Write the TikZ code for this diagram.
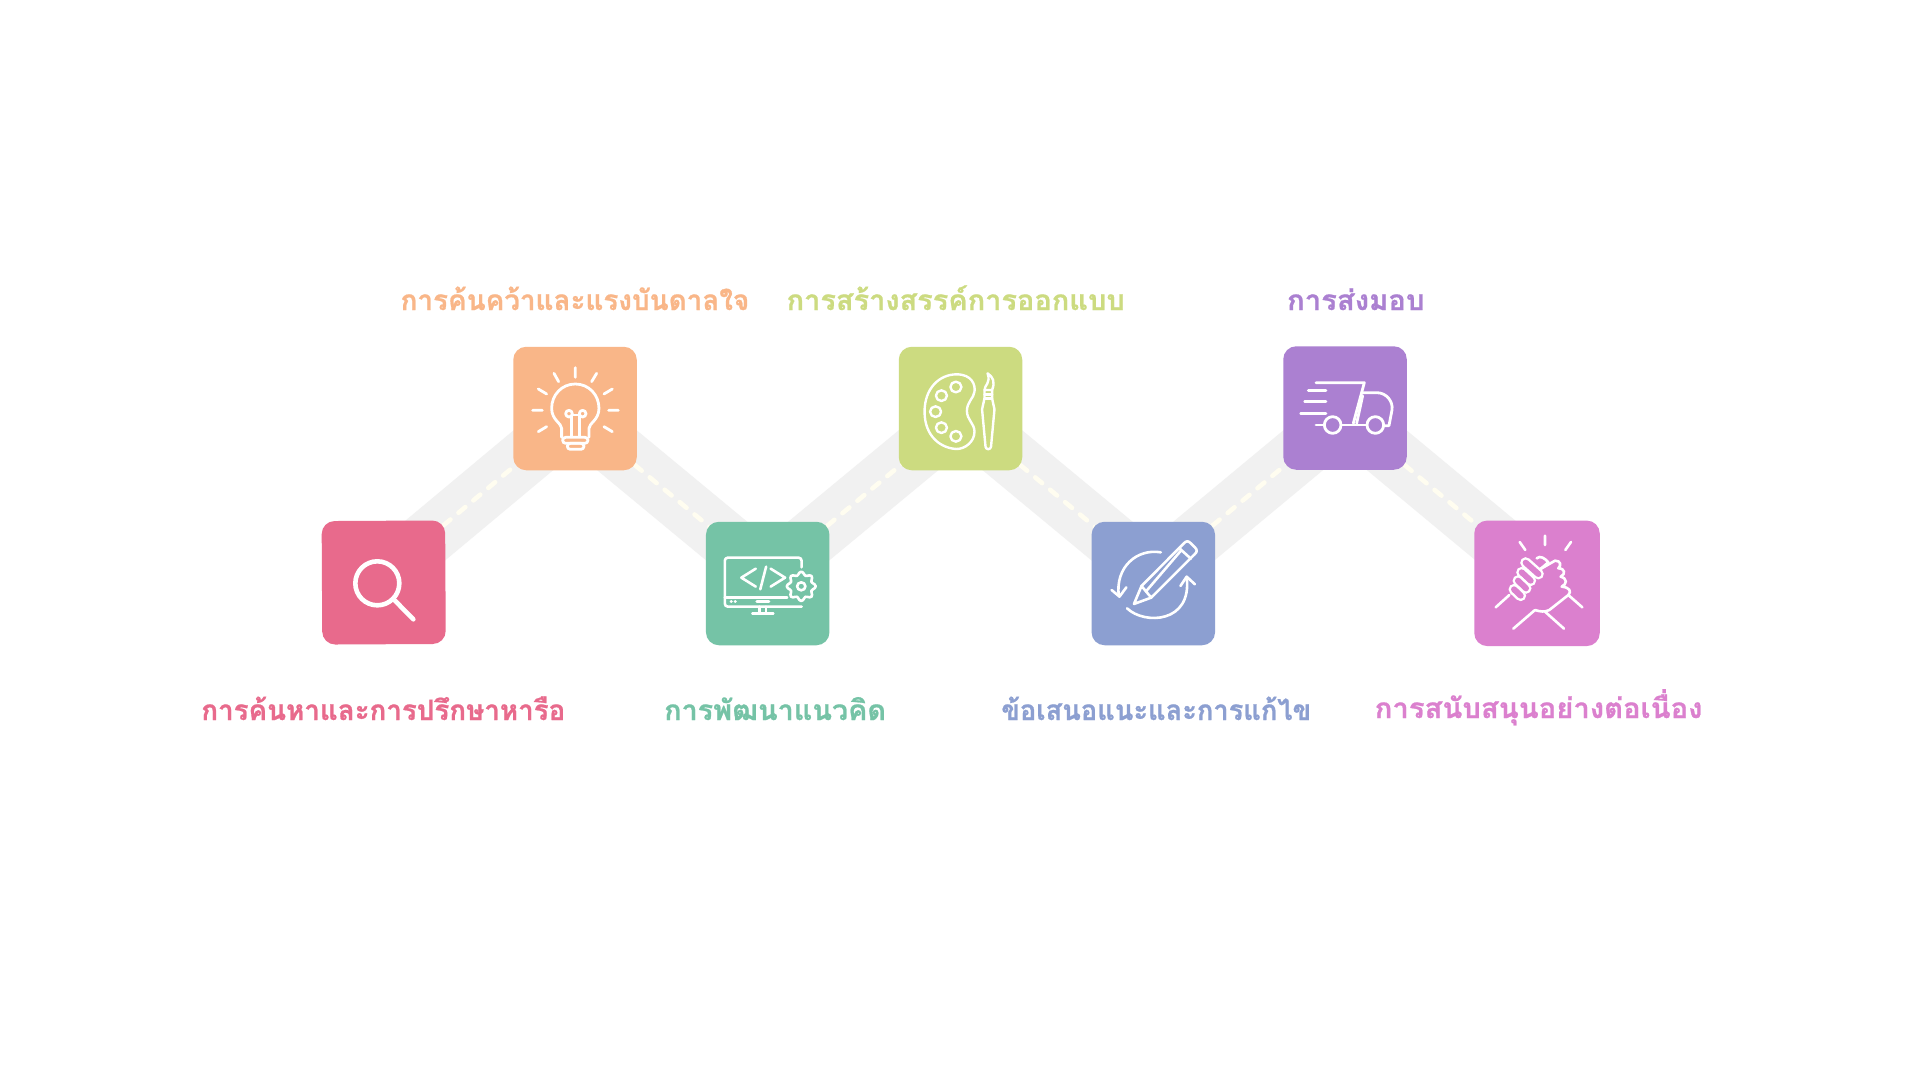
\documentclass[tikz,border=0pt]{standalone}
\usepackage{graphicx}
\usepackage{fontspec}
\newfontfamily\thaifont[Script=Thai,BoldFeatures={FakeBold=0.7}]{Loma}
\definecolor{cpink}{HTML}{E86A8C}
\definecolor{corange}{HTML}{F9B688}
\definecolor{cgreen}{HTML}{75C3A6}
\definecolor{clime}{HTML}{CCDB80}
\definecolor{cblue}{HTML}{8C9FD1}
\definecolor{cpurple}{HTML}{AB80D1}
\definecolor{cmagenta}{HTML}{DB80CE}
\definecolor{cband}{HTML}{F1F1F1}
\definecolor{cdash}{HTML}{FFFDF0}
\tikzset{
  box/.style={minimum size=123.5pt,inner sep=0pt,rounded corners=13pt,fill=#1,draw=none},
  band/.style={line width=56pt,draw=cband},
  roaddash/.style={line width=4.6pt,draw=cdash,line cap=round,dash pattern=on 9pt off 10.4pt},
  lab/.style={anchor=base,font=\thaifont\bfseries\fontsize{28}{33}\selectfont,text=#1,inner sep=0pt},
  z1/.style={xshift=#1pt,yshift=-330pt,x=0.3333pt,y=-0.3333pt},
  z2/.style={xshift=700pt,yshift=-330pt,x=0.3444pt,y=-0.3333pt}
}
\begin{document}
\begin{tikzpicture}[x=1pt,y=-1pt]
\useasboundingbox (0,0) rectangle (1920,1080);
\fill[white] (0,0) rectangle (1920,1080);
\coordinate (pA) at (384,575);
\coordinate (pB) at (575,415.5);
\coordinate (pC) at (767.7,575);
\coordinate (pD) at (960.5,415.5);
\coordinate (pE) at (1153,575);
\coordinate (pF) at (1345,415.5);
\coordinate (pG) at (1537,575);
\draw[band] (pA) -- (pB);
\draw[band] (pB) -- (pC);
\draw[band] (pC) -- (pD);
\draw[band] (pD) -- (pE);
\draw[band] (pE) -- (pF);
\draw[band] (pF) -- (pG);
\draw[roaddash] (pA) -- (pB);
\draw[roaddash] (pB) -- (pC);
\draw[roaddash] (pC) -- (pD);
\draw[roaddash] (pD) -- (pE);
\draw[roaddash] (pE) -- (pF);
\draw[roaddash] (pF) -- (pG);
\node[box=cpink,rotate=0.3] (n1) at (383.7,582.5) {};
\node[box=corange] (n2) at (575,408.5) {};
\node[box=cgreen] (n3) at (767.7,583.5) {};
\node[box=clime] (n4) at (960.5,408.5) {};
\node[box=cblue] (n5) at (1153.3,583.5) {};
\node[box=cpurple] (n6) at (1345,408) {};
\node[box=cmagenta,minimum size=125.5pt] (n7) at (1537,583.3) {};
\node[lab=cpink] (t1) at (383.3,720) {\scalebox{0.99}[1]{การค้นหาและการปรึกษาหารือ}};
\node[lab=corange] (t2) at (574.9,310) {\scalebox{0.994}[1]{การค้นคว้าและแรงบันดาลใจ}};
\node[lab=cgreen] (t3) at (775.1,720) {\scalebox{1.026}[1]{การพัฒนาแนวคิด}};
\node[lab=clime] (t4) at (955.7,310) {\scalebox{1.034}[1]{การสร้างสรรค์การออกแบบ}};
\node[lab=cblue] (t5) at (1156.2,720) {\scalebox{0.973}[1]{ข้อเสนอแนะและการแก้ไข}};
\node[lab=cpurple] (t6) at (1355.8,310) {\scalebox{1.045}[1]{การส่งมอบ}};
\node[lab=cmagenta] (t7) at (1538.6,718) {\scalebox{1.044}[1]{การสนับสนุนอย่างต่อเนื่อง}};
% search
\begin{scope}[z1=300]
\draw[white,line width=4.6pt] (232,760) circle[radius=66];
\draw[white,line width=4.6pt,line cap=round] (285,812) -- (340,868);
\end{scope}
% bulb
\begin{scope}[z1=300,white,line width=2.8pt,line cap=round,line join=round]
\draw (826,113)--(826,142) (762,130)--(776,155) (890,130)--(875,155) (715,177)--(740,192) (937,177)--(912,192)
 (698,241)--(727,241) (926,241)--(955,241) (715,305)--(740,290) (912,290)--(937,305);
\draw (785,322)--(785,295) .. controls (785,280) and (755,270) .. (755,235) .. controls (755,195) and (785,162) .. (826,162) .. controls (867,162) and (897,195) .. (897,235) .. controls (897,270) and (867,280) .. (867,295)--(867,322);
\draw[rounded corners=3pt] (788,322) rectangle (864,340);
\draw[rounded corners=3pt] (802,340) rectangle (852,358);
\draw (815,258)--(815,320) (838,258)--(838,320) (818,255)--(836,255);
\draw (807,251) circle[radius=10] (848,251) circle[radius=10];
\end{scope}
% monitor
\begin{scope}[z2,white,line width=2.6pt,line cap=round,line join=round]
\draw[rounded corners=3pt] (295,712)--(295,683)--(72,683)--(72,830)--(295,830);
\draw (72,803)--(253,803) (172,830)--(172,850) (192,830)--(192,850) (152,851)--(213,851);
\draw[line width=3pt] (165,815)--(200,815) (90,815)--(91,815) (102,815)--(103,815);
\draw (162,716)--(120,743)--(162,770) (192,710)--(175,778) (205,716)--(247,743)--(205,770);
\fill[cgreen] (294,769) circle[radius=44];
\draw plot[smooth cycle,domain=0:352.5,samples=48] ({294+(37+5*cos(8*\x))*cos(\x)},{769+(39+5*cos(8*\x))*sin(\x)});
\draw (294,769) circle[radius=12];
\end{scope}
% palette
\begin{scope}[z2,white,line width=2.4pt,line cap=round,line join=round]
\draw (745,133) .. controls (790,133) and (800,165) .. (797,185) .. controls (795,205) and (775,215) .. (775,243) .. controls (775,270) and (797,280) .. (797,305) .. controls (797,335) and (770,357) .. (745,357) .. controls (700,355) and (652,320) .. (652,245) .. controls (652,175) and (695,133) .. (745,133);
\foreach \px/\py in {743/171,701/197,684/245,701/293,743/319} \draw (\px,\py) circle[radius=16];
\draw (826,180) .. controls (826,165) and (845,160) .. (835,130) .. controls (850,140) and (858,155) .. (848,180);
\draw (826,180)--(826,205)--(819,238)--(829,350) .. controls (830,360) and (844,360) .. (845,350)--(855,238)--(848,205)--(848,180)--cycle;
\draw (826,193)--(848,193) (826,205)--(848,205);
\end{scope}
% pencil
\begin{scope}[z2,white,line width=2.6pt,line cap=round,line join=round]
\draw (1260,822)--(1282,768)--(1405,640) .. controls (1412,632) and (1418,632) .. (1425,640)--(1437,652) .. controls (1444,660) and (1444,665) .. (1437,672)--(1310,803)--cycle;
\draw (1282,768)--(1310,803) (1296,783)--(1398,660) (1392,655)--(1425,686);
\draw (1338,667) .. controls (1270,655) and (1205,710) .. (1216,798);
\draw (1195,780)--(1218,800)--(1238,772);
\draw (1240,835) .. controls (1290,885) and (1430,880) .. (1413,742);
\draw (1395,768)--(1413,740)--(1437,763);
\end{scope}
% truck
\begin{scope}[z1=1230,white,line width=2.8pt,line cap=round,line join=round]
\draw (258,158)--(403,158)--(370,280);
\draw (400,188)--(440,188) .. controls (470,188) and (490,215) .. (486,240)--(477,287)--(462,287);
\draw (398,197)--(380,280);
\draw (235,181)--(288,181) (224,215)--(288,215) (212,250)--(288,250) (258,285)--(282,285) (335,285)--(408,285);
\draw (308,285) circle[radius=25] (436,285) circle[radius=25];
\end{scope}
% handshake
\begin{scope}[xshift=1490pt,yshift=-530pt,x=0.3333pt,y=-0.3333pt,line cap=round,line join=round]
\draw[white,line width=2.6pt] (165,17)--(165,45) (89,36)--(106,60) (243,36)--(226,60) (17,232)--(58,195) (277,232)--(235,195) (70,296)--(135,240) (222,296)--(165,245);
\draw[white,line width=2.6pt] (135,240) .. controls (150,245) and (165,247) .. (178,240)--(235,195);
\draw[white,line width=2.6pt] (150,118)--(195,92) .. controls (212,92) and (215,105) .. (205,115) .. controls (225,115) and (228,132) .. (212,140) .. controls (232,145) and (232,162) .. (215,170) .. controls (240,172) and (245,185) .. (235,195);
\draw[white,line width=2.6pt] (140,85) .. controls (150,75) and (165,85) .. (175,97)--(150,118);
\foreach \ax/\ay/\bx/\by in {107/98/145/132,95/127/122/152,84/152/108/175,72/178/92/197}{
  \draw[white,line width=11pt] (\ax,\ay)--(\bx,\by);
  \draw[cmagenta,line width=6pt] (\ax,\ay)--(\bx,\by);
}
\end{scope}
\end{tikzpicture}
\end{document}
